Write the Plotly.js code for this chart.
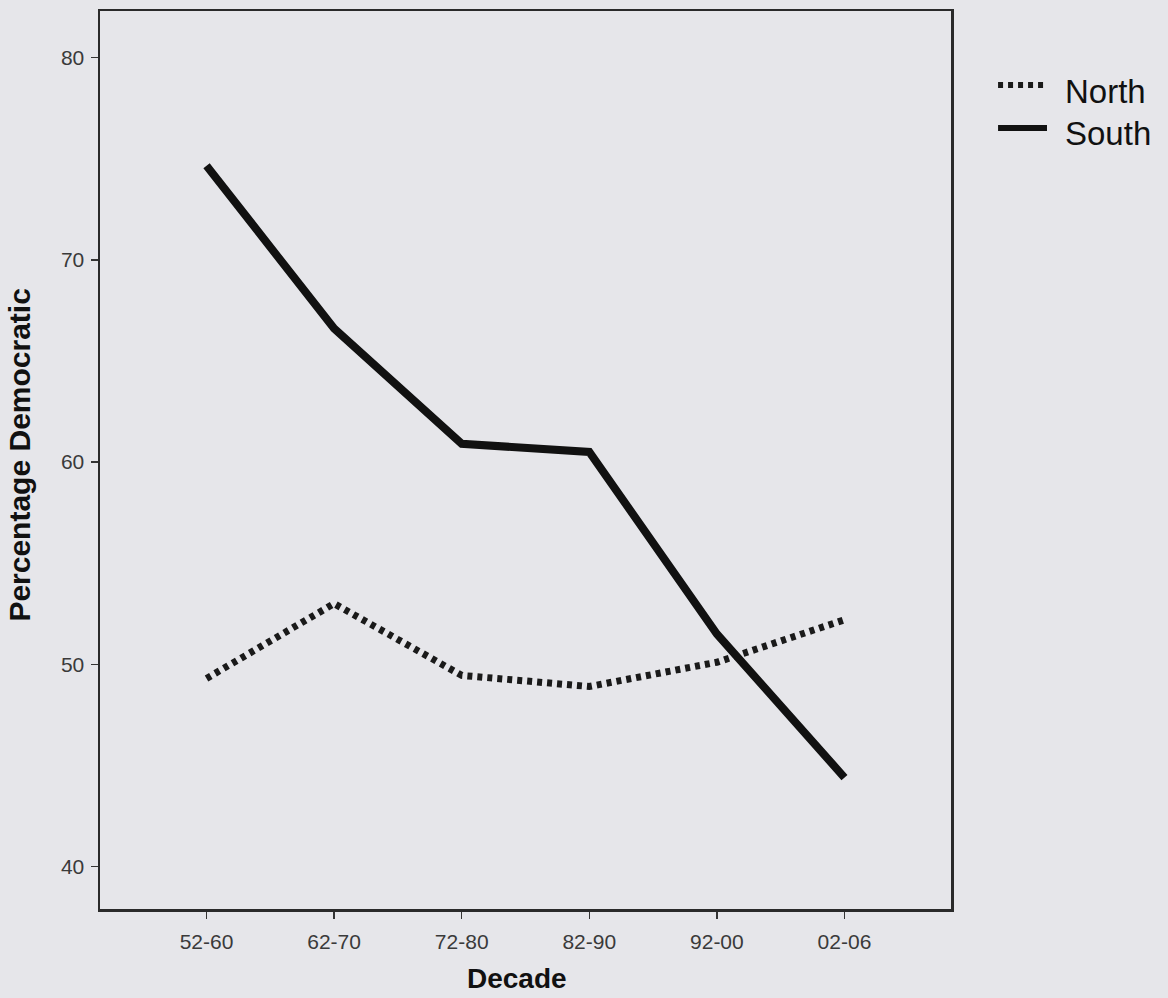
<!DOCTYPE html>
<html>
<head>
<meta charset="utf-8">
<script src="https://cdn.plot.ly/plotly-3.0.1.min.js"></script>
<style>
html,body{margin:0;padding:0;background:#e6e6ea;}
#chart{width:1168px;height:998px;}
</style>
</head>
<body>
<div id="chart"></div>
<script>
const decades = ["52-60", "62-70", "72-80", "82-90", "92-00", "02-06"];
const northValues = [49.3, 53.0, 49.45, 48.9, 50.1, 52.2];
const southValues = [74.65, 66.6, 60.9, 60.5, 51.5, 44.4];
const yTicks = [40, 50, 60, 70, 80];
const seriesNames = ["North", "South"];

const traces = [
  {
    x: decades, y: northValues, name: seriesNames[0], type: "scatter", mode: "lines",
    line: {color: "#1a1a1a", width: 7, dash: "5px,5px"}, showlegend: false
  },
  {
    x: decades, y: southValues, name: seriesNames[1], type: "scatter", mode: "lines",
    line: {color: "#111111", width: 8}, showlegend: false
  }
];

const layout = {
  width: 1168, height: 998,
  paper_bgcolor: "#e6e6ea", plot_bgcolor: "#e6e6ea",
  margin: {l: 100, r: 217, t: 11, b: 89},
  font: {family: "Liberation Sans, Arial, sans-serif", color: "#333"},
  showlegend: false,
  xaxis: {
    type: "category", range: [-0.835, 5.835],
    showgrid: false, zeroline: false,
    showline: true, mirror: true, linecolor: "#2a2a2a", linewidth: 2.5,
    ticks: "outside", ticklen: 7, tickwidth: 1.5, tickcolor: "#333",
    ticklabelstandoff: 5,
    tickfont: {size: 21, color: "#3a3a3a"}
  },
  yaxis: {
    range: [37.9, 82.3], tickvals: yTicks, ticktext: yTicks.map(String),
    showgrid: false, zeroline: false,
    showline: true, mirror: true, linecolor: "#2a2a2a", linewidth: 2.5,
    ticks: "outside", ticklen: 7, tickwidth: 1.5, tickcolor: "#333",
    ticklabelstandoff: 2,
    tickfont: {size: 21, color: "#3a3a3a"}
  },
  shapes: [
    {type: "line", xref: "paper", yref: "paper", x0: 1.0553, x1: 1.1128, y0: 0.9176, y1: 0.9176,
     line: {color: "#1a1a1a", width: 6, dash: "5px,5px"}},
    {type: "line", xref: "paper", yref: "paper", x0: 1.0553, x1: 1.1128, y0: 0.8697, y1: 0.8697,
     line: {color: "#111111", width: 6}}
  ],
  annotations: [
    {text: seriesNames[0], xref: "paper", yref: "paper", x: 1.1316, y: 0.9098, xanchor: "left", yanchor: "middle",
     showarrow: false, font: {size: 33, color: "#111"}},
    {text: seriesNames[1], xref: "paper", yref: "paper", x: 1.1316, y: 0.8641, xanchor: "left", yanchor: "middle",
     showarrow: false, font: {size: 33, color: "#111"}},
    {text: "<b>Decade</b>", xref: "paper", yref: "paper", x: 0.49, y: -0.077, xanchor: "center", yanchor: "middle",
     showarrow: false, font: {size: 28, color: "#111"}},
    {text: "<b>Percentage Democratic</b>", xref: "paper", yref: "paper", x: -0.094, y: 0.506, xanchor: "center", yanchor: "middle",
     textangle: -90, showarrow: false, font: {size: 30, color: "#111"}}
  ]
};

Plotly.newPlot("chart", traces, layout, {displayModeBar: false, staticPlot: true});
</script>
</body>
</html>
